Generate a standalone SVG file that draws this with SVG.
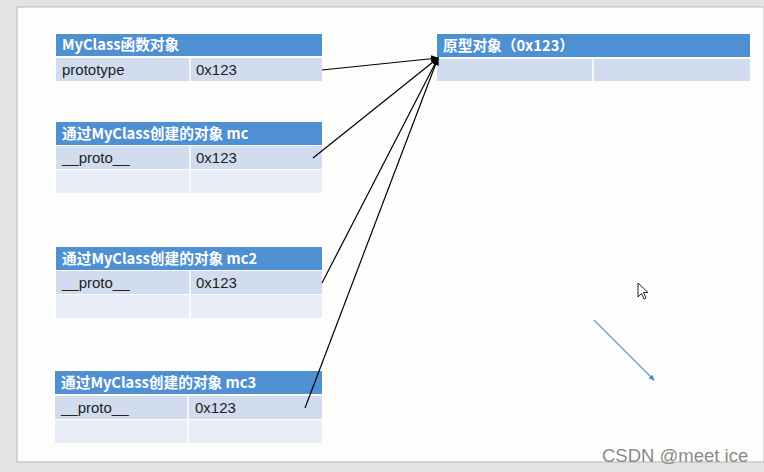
<svg xmlns="http://www.w3.org/2000/svg" width="764" height="472" viewBox="0 0 764 472">
<defs>
<style>
.hd{fill:#4f90d2}
.r1{fill:#d1ddef}
.r2{fill:#e8edf7}
.sep{stroke:#ffffff;stroke-width:1.5}
.ht{font-family:"Noto Sans CJK SC","Liberation Sans",sans-serif;font-size:14.7px;font-weight:bold;fill:#ffffff}
.ct{font-family:"Liberation Sans",Arial,sans-serif;font-size:15px;fill:#222222}
.ln{stroke:#000000;stroke-width:1.2;fill:none}
</style>
<marker id="ah" markerWidth="8" markerHeight="8" refX="7" refY="4" orient="auto" markerUnits="userSpaceOnUse">
<path d="M0,0.5 L8,4 L0,7.5 z" fill="#000"/>
</marker>
<marker id="ahb" markerWidth="6" markerHeight="6" refX="5" refY="3" orient="auto" markerUnits="userSpaceOnUse">
<path d="M0,0.5 L6,3 L0,5.5 z" fill="#4a86c5"/>
</marker>
</defs>
<rect x="0" y="0" width="764" height="472" fill="#e3e4e1"/>
<rect x="17" y="7" width="747" height="455" fill="#fdfefc" stroke="#b8b9b6" stroke-width="1"/>

<g id="myclass">
<rect class="hd" x="56" y="34" width="266" height="22"/>
<text class="ht" x="62" y="50">MyClass函数对象</text>
<rect class="r1" x="56" y="58" width="266" height="23"/>
<line class="sep" x1="190" y1="58" x2="190" y2="81"/>
<text class="ct" x="62" y="75">prototype</text>
<text class="ct" x="196" y="75">0x123</text>
</g>

<g id="mc">
<rect class="hd" x="56" y="122" width="266" height="23"/>
<text class="ht" x="62" y="139">通过MyClass创建的对象 mc</text>
<rect class="r1" x="56" y="146" width="266" height="23"/>
<rect class="r2" x="56" y="170" width="266" height="23"/>
<line class="sep" x1="190" y1="146" x2="190" y2="193"/>
<text class="ct" x="62" y="163">__proto__</text>
<text class="ct" x="196" y="163">0x123</text>
</g>

<g id="mc2">
<rect class="hd" x="56" y="247" width="266" height="23"/>
<text class="ht" x="62" y="264">通过MyClass创建的对象 mc2</text>
<rect class="r1" x="56" y="271" width="266" height="23"/>
<rect class="r2" x="56" y="295" width="266" height="23"/>
<line class="sep" x1="190" y1="271" x2="190" y2="318"/>
<text class="ct" x="62" y="288">__proto__</text>
<text class="ct" x="196" y="288">0x123</text>
</g>

<g id="mc3">
<rect class="hd" x="55" y="371" width="267" height="23"/>
<text class="ht" x="61" y="388">通过MyClass创建的对象 mc3</text>
<rect class="r1" x="55" y="396" width="267" height="23"/>
<rect class="r2" x="55" y="420" width="267" height="23"/>
<line class="sep" x1="188" y1="396" x2="188" y2="443"/>
<text class="ct" x="61" y="413">__proto__</text>
<text class="ct" x="195" y="413">0x123</text>
</g>

<g id="proto">
<rect class="hd" x="437" y="34" width="313" height="23"/>
<text class="ht" x="443" y="51">原型对象（0x123）</text>
<rect class="r1" x="437" y="59" width="313" height="22"/>
<line class="sep" x1="593" y1="59" x2="593" y2="81"/>
</g>

<g id="connectors">
<line class="ln" x1="322" y1="70" x2="438" y2="58" marker-end="url(#ah)"/>
<line class="ln" x1="313" y1="158" x2="438" y2="58" marker-end="url(#ah)"/>
<line class="ln" x1="322" y1="283" x2="438" y2="58" marker-end="url(#ah)"/>
<line class="ln" x1="305" y1="408" x2="438" y2="58" marker-end="url(#ah)"/>
<line x1="594" y1="320" x2="654" y2="380" stroke="#5b93cf" stroke-width="1.1" marker-end="url(#ahb)"/>
</g>

<path d="M638,283 L638,297 L641.5,293.5 L644,299 L646,298 L643.5,292.5 L648,292.5 Z" fill="#ffffff" stroke="#222" stroke-width="1"/>

<text x="602" y="462" font-family="Liberation Sans,Arial,sans-serif" font-size="18.5" fill="#8a8a8a">CSDN @meet ice</text>
</svg>
